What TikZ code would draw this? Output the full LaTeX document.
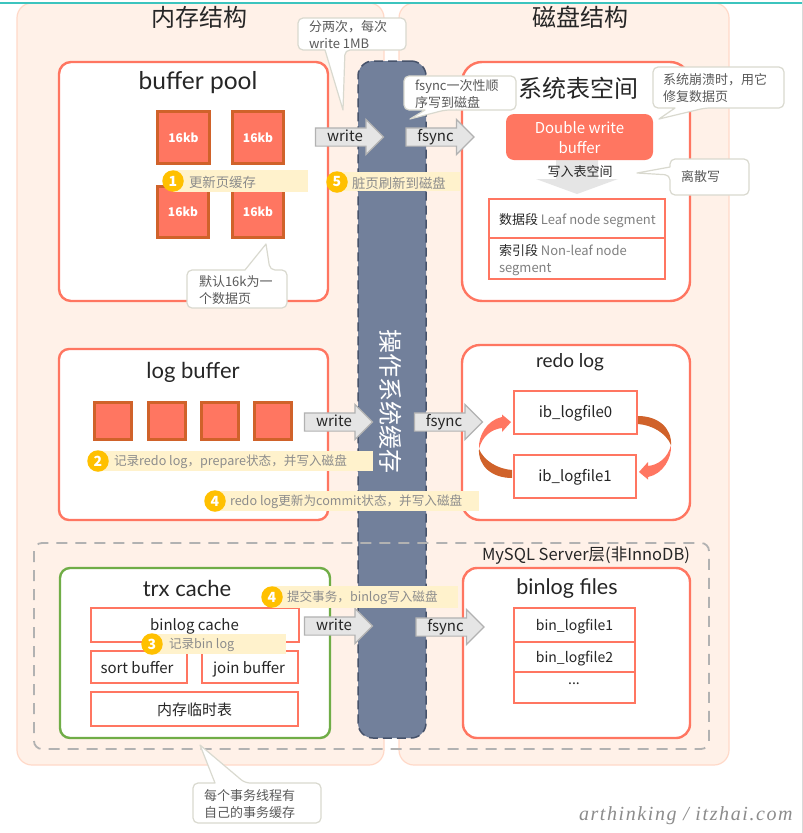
\documentclass[tikz,border=0pt]{standalone}
\usepackage{fontspec}
\usetikzlibrary{shapes.arrows}
\setmainfont{Noto Sans CJK SC}
\newfontfamily\latinf{Lato}
\newfontfamily\wmf[LetterSpace=8]{Liberation Serif}
\newcommand\fsz[1]{\fontsize{#1}{17}\selectfont}
\definecolor{panel}{HTML}{FFF1E8}
\definecolor{panelb}{HTML}{FFD9C8}
\definecolor{coral}{HTML}{FF7661}
\definecolor{rust}{HTML}{D0622A}
\definecolor{slate}{HTML}{72809B}
\definecolor{slateb}{HTML}{46526A}
\definecolor{band}{HTML}{FFF2CC}
\definecolor{amber}{HTML}{FFC000}
\definecolor{tgreen}{HTML}{70AD47}
\definecolor{callb}{HTML}{D9D9CF}
\definecolor{calltx}{HTML}{595959}
\definecolor{bandtx}{HTML}{8C8C8C}
\definecolor{ink}{HTML}{262626}
\definecolor{tealline}{HTML}{3CC4BE}
\tikzset{
  every node/.style={inner sep=0pt,outer sep=0pt,text=ink},
  bgpanel/.style={fill=panel,draw=panelb,line width=1.2pt,rounded corners=15pt},
  bigbox/.style={draw=coral,fill=white,line width=2.4pt,anchor=north west},
  cell/.style={draw=coral,fill=white,line width=1.2pt,anchor=north west},
  page/.style={draw=rust,fill=coral,line width=3pt,anchor=north west},
  pagetx/.style={text=white,font=\bfseries\fsz{12}},
  title/.style={font=\fsz{24}},
  celltx/.style={font=\fsz{15}},
  flow/.style={shape=single arrow,draw=black!30,fill=black!10,line width=1.2pt,
    single arrow head extend=8.5pt,single arrow tip angle=90,
    minimum height=68pt,text height=11pt,text depth=2.5pt,inner ysep=1.75pt,inner xsep=2pt,
    font=\fsz{15}},
  callbody/.style={draw=callb,fill=white,line width=1.2pt,line join=round},
  calltext/.style={text=calltx,font=\fsz{13},align=left,anchor=west},
  bandbox/.style={fill=band,anchor=north west},
  badge/.style={circle,fill=amber,minimum size=21.5pt,text=white,font=\bfseries\fsz{14}},
  bandtext/.style={text=bandtx,font=\fsz{13.4},anchor=west},
  bandlatin/.style={text=bandtx,font=\fsz{12.6},anchor=west},
}
\begin{document}
\begin{tikzpicture}[x=1pt,y=-1pt]
\useasboundingbox (0,0) rectangle (803,833);
\fill[white] (0,0) rectangle (803,833);
% panels
\draw[bgpanel] (17,3) rectangle (384,765);
\draw[bgpanel] (399,3) rectangle (729,765);
\fill[tealline] (0,1.5) rectangle (803,3.5);
\fill[black!15] (801.5,0) rectangle (803,833);
\node[title] (memt) at (199,17) {内存结构};
\node[title] (diskt) at (580,17) {磁盘结构};

% buffer pool
\node[bigbox,rounded corners=12pt,minimum width=269pt,minimum height=239pt] (bp) at (59,62) {};
\node[font=\latinf\fsz{24.5}] (bpt) at (198,82.5) {buffer pool};
\node[page,minimum width=52pt,minimum height=52pt] (p1) at (157.5,111.5) {};
\node[page,minimum width=51pt,minimum height=52pt] (p2) at (232.5,111.5) {};
\node[page,minimum width=51pt,minimum height=51pt] (p3) at (157.5,186.5) {};
\node[page,minimum width=51pt,minimum height=51pt] (p4) at (232.5,186.5) {};
\node[pagetx] at (p1) {16kb};
\node[pagetx] at (p2) {16kb};
\node[pagetx] at (p3) {16kb};
\node[pagetx] at (p4) {16kb};

% right tablespace
\node[bigbox,rounded corners=20pt,minimum width=228pt,minimum height=239pt] (ts) at (462,62) {};
\node[title] (tst) at (578.5,88) {系统表空间};
\fill[black!10] (556,160) -- (598,160) -- (598,179) -- (618,179) -- (577,194) -- (536,179) -- (556,179) -- cycle;
\node[anchor=north west,fill=coral,rounded corners=8pt,minimum width=147pt,minimum height=46pt] (dwb) at (506,114) {};
\node[text=white,font=\fsz{15},align=center] (dwbt) at (579.5,138) {Double write\\[3pt]buffer};
\node[font=\fsz{13}] (wts) at (580,172) {写入表空间};
\node[cell,minimum width=176pt,minimum height=39pt] (seg1) at (489,199) {};
\node[cell,minimum width=176pt,minimum height=41pt] (seg2) at (489,238) {};
\node[anchor=west,font=\fsz{13}] at (499,221) {数据段 \textcolor{black!50}{Leaf node segment}};
\node[anchor=north west,font=\fsz{13},align=left] at (499,244) {索引段 \textcolor{black!50}{Non-leaf node}\\\textcolor{black!50}{segment}};

% log buffer
\node[bigbox,rounded corners=10pt,minimum width=269pt,minimum height=171pt] (lb) at (59,349) {};
\node[font=\latinf\fsz{22}] (lbt) at (193,372.5) {log buffer};
\foreach \n/\x in {a/94.5,b/148.5,c/201.5,d/254.5}{
  \node[page,minimum width=37pt,minimum height=37pt] (l\n) at (\x,402.5) {};
}
% redo log
\node[bigbox,rounded corners=18pt,minimum width=228pt,minimum height=175pt] (rl) at (462,345) {};
\node[font=\latinf\fsz{19}] (rlt) at (570,362) {redo log};
\node[cell,minimum width=123pt,minimum height=43pt] (ib0) at (514,391) {};
\node[cell,minimum width=122pt,minimum height=43pt] (ib1) at (514,455) {};
\node[font=\fsz{15}] at (575.5,413.5) {ib\_logfile0};
\node[font=\fsz{15}] at (575,477.5) {ib\_logfile1};
\foreach \r in {0,180}{
\begin{scope}[rotate around={\r:(575,447)}]
  \fill[rust] (638,416) .. controls (658,416) and (672,428) .. (671,445)
     .. controls (666,433) and (652,425) .. (638,424) -- cycle;
  \fill[coral] (671,445) .. controls (672,458) and (663,474) .. (648,477) -- (648,479.5) -- (639,472)
     -- (648,462) -- (648,466) .. controls (658,465) and (668,458) .. (671,445) -- cycle;
\end{scope}}

% trx cache
\node[bigbox,draw=tgreen,rounded corners=10pt,minimum width=270pt,minimum height=170pt] (trx) at (60,568) {};
\node[font=\latinf\fsz{22}] (trxt) at (187,588.5) {trx cache};
\node[cell,minimum width=208pt,minimum height=34pt] (bc) at (91,608) {};
\node[cell,minimum width=96pt,minimum height=32pt] (sb) at (91,651) {};
\node[cell,minimum width=96pt,minimum height=32pt] (jb) at (202,651) {};
\node[cell,minimum width=207pt,minimum height=34pt] (tmp) at (91,692) {};
\node[celltx] at (194.5,626) {binlog cache};
\node[celltx] at (137,668) {sort buffer};
\node[celltx] at (249,669) {join buffer};
\node[celltx] at (194.5,710) {内存临时表};

% binlog files
\node[bigbox,rounded corners=14pt,minimum width=227pt,minimum height=170pt] (bf) at (463,568) {};
\node[font=\latinf\fsz{21.5}] (bft) at (567,588.5) {binlog files};
\node[cell,minimum width=121pt,minimum height=34pt] (f1) at (514,608) {};
\node[cell,minimum width=121pt,minimum height=30pt] (f2) at (514,642) {};
\node[cell,minimum width=121pt,minimum height=31pt] (f3) at (514,672) {};
\node[font=\fsz{14}] at (574.5,627) {bin\_logfile1};
\node[font=\fsz{14}] at (574.5,659) {bin\_logfile2};
\node[font=\fsz{14}] at (574,684) {...};

% OS cache
\node[anchor=north west,fill=slate,draw=slateb,dash pattern=on 9pt off 5pt,line width=1.5pt,rounded corners=15pt,minimum width=68pt,minimum height=677pt] (os) at (358,61) {};
\node[rotate=-90,text=white,font=\fsz{24}] (ost) at (391,401) {操作系统缓存};

% MySQL dashed frame
\draw[black!30,line width=1.8pt,dash pattern=on 11pt off 8pt,rounded corners=8pt] (34,543) rectangle (709,749);
\node[anchor=west,font=\fsz{16.5}] (mysql) at (482,556) {MySQL Server层(非InnoDB)};

% flow arrows
\node[flow] (w1) at (345,137) {write};
\node[flow] (s1) at (435.5,137) {fsync};
\node[flow] (w2) at (334,422) {write};
\node[flow] (s2) at (444,422) {fsync};
\node[flow] (w3) at (334,626) {write};
\node[flow] (s3) at (445.5,627) {fsync};

% bands
\node[bandbox,minimum width=135pt,minimum height=22pt] (b1) at (173,170) {};
\node[badge] (n1) at (173,181) {1};
\node[bandtext] at (189,182) {更新页缓存};
\node[bandbox,minimum width=123pt,minimum height=19pt] (b5) at (337,172) {};
\node[badge] (n5) at (337,182) {5};
\node[bandtext] at (352,183) {脏页刷新到磁盘};
\node[bandbox,minimum width=275pt,minimum height=20pt] (b2) at (98,451) {};
\node[badge] (n2) at (98,461) {2};
\node[bandlatin] at (114,462) {记录redo log，prepare状态，并写入磁盘};
\node[bandbox,minimum width=264pt,minimum height=20pt] (b4) at (215,491) {};
\node[badge] (n4) at (215,501) {4};
\node[bandlatin] at (230,502) {redo log更新为commit状态，并写入磁盘};
\node[bandbox,minimum width=134pt,minimum height=20pt] (b3) at (152,634) {};
\node[badge] (n3) at (152,644) {3};
\node[bandlatin] at (169,645) {记录bin log};
\node[bandbox,minimum width=186pt,minimum height=22pt] (b4b) at (272,586) {};
\node[badge] (n4b) at (272,597) {4};
\node[bandlatin] at (287,598) {提交事务，binlog写入磁盘};

% callouts
\draw[callbody,rounded corners=5pt] (325,50) -- (298,50) -- (298,18) -- (406,18) -- (406,50) -- (345,50) [sharp corners] -- (343,110) -- cycle;
\node[calltext] (c1) at (309,35) {分两次，每次\\write 1MB};
\draw[callbody,rounded corners=5pt] (425,110) -- (404,110) -- (404,76) -- (516,76) -- (516,110) -- (445,110) [sharp corners] -- (410,119) -- cycle;
\node[calltext] (c2) at (415,94) {fsync一次性顺\\序写到磁盘};
\draw[callbody,rounded corners=5pt] (675,108) -- (653,108) -- (653,67) -- (784,67) -- (784,108) -- (705,108) [sharp corners] -- (659,119) -- cycle;
\node[calltext] (c3) at (663,88.5) {系统崩溃时，用它\\修复数据页};
\draw[callbody,rounded corners=5pt] (670,167) -- (670,159) -- (749,159) -- (749,195) -- (670,195) -- (670,175) [sharp corners] -- (637,173) -- cycle;
\node[calltext] (c4) at (681,177) {离散写};
\draw[callbody,rounded corners=5pt] (245,270) -- (187,270) -- (187,308) -- (287,308) -- (287,270) -- (270,270) [sharp corners] -- (266,244) -- cycle;
\node[calltext] (c5) at (199,290) {默认16k为一\\个数据页};
\draw[callbody,rounded corners=5pt] (215,783) -- (193,783) -- (193,823) -- (321,823) -- (321,783) -- (245,783) [sharp corners] -- (200,745) -- cycle;
\node[calltext] (c6) at (204,804) {每个事务线程有\\自己的事务缓存};

\node[anchor=west,text=black!45,font=\wmf\itshape\fsz{20}] (wm) at (579,816) {arthinking / itzhai.com};
\end{tikzpicture}
\end{document}
